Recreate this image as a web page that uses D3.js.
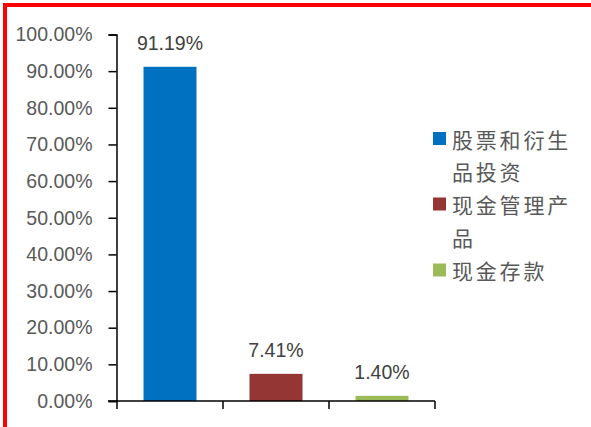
<!DOCTYPE html>
<html><head><meta charset="utf-8">
<script src="https://cdn.jsdelivr.net/npm/d3@7"></script>
<style>body{margin:0;background:#fff;}svg{display:block;font-family:"Noto Sans CJK SC","Liberation Sans",sans-serif;}</style>
</head><body>
<svg id="c" width="591" height="427"></svg>
<script>
const categories = ["股票和衍生品投资", "现金管理产品", "现金存款"];
const values = [91.19, 7.41, 1.40];
const colors = ["#0070C0", "#943634", "#9BBB59"];
const legendLines = [["股票和衍生","品投资"], ["现金管理产","品"], ["现金存款"]];
const yTicks = [0,10,20,30,40,50,60,70,80,90,100];

const svg = d3.select("#c");
// red frame
svg.append("line").attr("x1",5).attr("y1",5).attr("x2",591).attr("y2",5).attr("stroke","#FF0000").attr("stroke-width",4);
svg.append("line").attr("x1",5).attr("y1",3).attr("x2",5).attr("y2",427).attr("stroke","#FF0000").attr("stroke-width",4);

const x = d3.scaleBand().domain(categories).range([117, 435]).paddingInner(0.5).paddingOuter(0.25);
const y = d3.scaleLinear().domain([0,100]).range([401, 34.5]);

const yAxis = svg.append("g").attr("transform","translate(116.5,0)")
  .call(d3.axisLeft(y).tickValues(yTicks).tickFormat(d=>d.toFixed(2)+"%").tickSize(8).tickPadding(16));
yAxis.select(".domain").attr("stroke","#000").attr("stroke-width",1.5);
yAxis.selectAll(".tick line").attr("stroke","#000").attr("stroke-width",1.5);
yAxis.selectAll("text").attr("fill","#595959").attr("font-size",19.5).attr("font-family","Liberation Sans, Arial, sans-serif");

svg.selectAll("rect.bar").data(values).join("rect").attr("class","bar")
  .attr("x",(d,i)=>x(categories[i])).attr("width",x.bandwidth())
  .attr("y",d=>y(d)).attr("height",d=>y(0)-y(d)).attr("fill",(d,i)=>colors[i]);

const xAxis = svg.append("g").attr("transform","translate(0,401)");
xAxis.append("line").attr("x1",108).attr("x2",435).attr("stroke","#000").attr("stroke-width",1.5);
const bounds = [117, 117+ (435-117)/3, 117+2*(435-117)/3, 435];
xAxis.selectAll("line.t").data(bounds).join("line").attr("class","t")
  .attr("x1",d=>d).attr("x2",d=>d).attr("y1",0).attr("y2",8).attr("stroke","#000").attr("stroke-width",1.5);

svg.selectAll("text.lbl").data(values).join("text").attr("class","lbl")
  .attr("x",(d,i)=>x(categories[i])+x.bandwidth()/2).attr("y",d=>y(d)-17)
  .attr("text-anchor","middle").attr("fill","#404040").attr("font-size",19.5)
  .attr("font-family","Liberation Sans, Arial, sans-serif")
  .text(d=>d.toFixed(2)+"%");

// legend
const lg = svg.append("g");
const legY = [138.5, 204, 270];
legendLines.forEach((lines,i)=>{
  lg.append("rect").attr("x",433).attr("y",legY[i]-6.5).attr("width",13).attr("height",13).attr("fill",colors[i]);
  lines.forEach((t,j)=>{
    lg.append("text").attr("x",452).attr("y",legY[i]+9+j*32.5).attr("fill","#595959")
      .attr("font-size",21).attr("letter-spacing",2.8).text(t);
  });
});
</script>
</body></html>
